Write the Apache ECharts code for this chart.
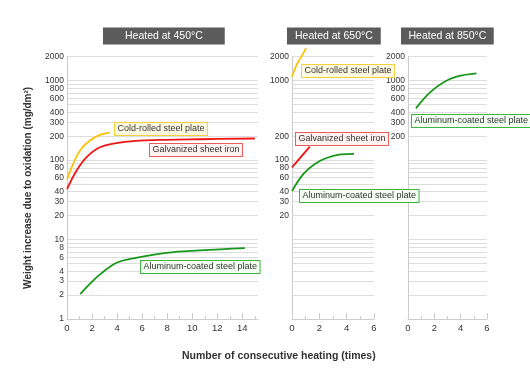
<!DOCTYPE html>
<html>
<head>
<meta charset="utf-8">
<script src="https://cdn.jsdelivr.net/npm/echarts@6/dist/echarts.min.js"></script>
<style>
html,body{margin:0;padding:0;background:#fff;}
#c{width:530px;height:392px;}
</style>
</head>
<body>
<div id="c"></div>
<script>
// ---- data ----
const PANEL_TITLES = ['Heated at 450°C', 'Heated at 650°C', 'Heated at 850°C'];
const GRID_VALUES = [1,2,3,4,5,6,7,8,9,10,20,30,40,50,60,70,80,90,100,200,300,400,500,600,700,800,900,1000,2000];
const P1_YLABELS = [1,2,3,4,6,8,10,20,30,40,60,80,100,200,300,400,600,800,1000,2000];
const P2_YLABELS = [20,30,40,60,80,100,200,1000,2000];
const P3_YLABELS = [200,300,400,600,800,1000,2000];
const P1_XMAJOR = [0,2,4,6,8,10,12,14];
const P1_XMINOR = [1,3,5,7,9,11,13,15];
const P23_XMAJOR = [0,2,4,6];
const P23_XMINOR = [1,3,5];

// 450°C
const p1Cold = [[0,57],[0.37,81],[1.04,132],[1.83,176],[2.63,208],[3.42,222]];
const p1Galv = [[0,43],[0.77,74],[1.57,109],[2.63,145],[3.96,163],[5.29,173],[7.94,180],[10.6,183],[15,187]];
const p1Alum = [[1.06,2.06],[1.86,2.8],[2.66,3.67],[3.96,5.1],[5.29,5.8],[7.94,6.8],[10.6,7.3],[14.2,7.8]];
// 650°C
const p2Cold = [[0,1120],[0.37,1620],[0.72,2050],[1.03,2570]];
const p2Galv = [[0,81],[1.3,148]];
const p2Alum = [[0,40.7],[0.84,67],[1.7,90],[2.57,107],[3.56,118],[4.54,120]];
// 850°C
const p3Alum = [[0.6,448],[1.67,711],[2.68,949],[3.69,1120],[5.2,1230]];

const NAMES = {cold:'Cold-rolled steel plate', galv:'Galvanized sheet iron', alum:'Aluminum-coated steel plate'};
const Y_TITLE = 'Weight increase due to oxidation (mg/dm²)';
const X_TITLE = 'Number of consecutive heating (times)';

// ---- styles ----
const FONT = '"Liberation Sans", Arial, sans-serif';
const C = {
  cold:{line:'#fcc20a', border:'#f5cf3c', fill:'#fffbe2'},
  galv:{line:'#f01414', border:'#ef5a5a', fill:'#fff2f2'},
  alum:{line:'#18981a', border:'#3fb43f', fill:'#f2fff2'}
};
const grids = [
  {left:67, top:56.7, width:191, height:262.3},
  {left:292, top:56.7, width:82, height:262.3},
  {left:408, top:56.7, width:79, height:262.3}
];
const xMax = [15.25, 6, 6];
const yLabels = [P1_YLABELS, P2_YLABELS, P3_YLABELS];
const xMajor = [P1_XMAJOR, P23_XMAJOR, P23_XMAJOR];
const xMinor = [P1_XMINOR, P23_XMINOR, P23_XMINOR];

const xAxes = [], yAxes = [];
for (let i = 0; i < 3; i++) {
  xAxes.push({
    type:'value', gridIndex:i, min:0, max:xMax[i], position:'bottom',
    axisLine:{show:true, lineStyle:{color:'#cccccc', width:1}},
    axisTick:{show:true, inside:true, length:6, customValues:xMajor[i], lineStyle:{color:'#cccccc'}},
    axisLabel:{customValues:xMajor[i], fontSize:9.5, color:'#333', fontFamily:FONT, margin:4},
    splitLine:{show:false}
  });
  xAxes.push({
    type:'value', gridIndex:i, min:0, max:xMax[i], position:'bottom',
    axisLine:{show:false},
    axisTick:{show:true, inside:true, length:3, customValues:xMinor[i], lineStyle:{color:'#cccccc'}},
    axisLabel:{show:false},
    splitLine:{show:false}
  });
  yAxes.push({
    type:'log', logBase:10, gridIndex:i, min:1, max:2000,
    axisLine:{show:true, lineStyle:{color:'#cccccc', width:1}},
    axisTick:{show:false, customValues:GRID_VALUES},
    axisLabel:{customValues:yLabels[i], fontSize:8.5, color:'#333', fontFamily:FONT, margin:3,
      formatter:v => String(Math.round(v))},
    splitLine:{show:true, lineStyle:{color:'#dddddd', width:1}},
    name: i === 0 ? Y_TITLE : '',
    nameLocation:'middle', nameGap:34,
    nameTextStyle:{fontSize:10, fontWeight:'bold', color:'#333', fontFamily:FONT}
  });
}

function line(data, key, gi) {
  return {
    type:'line', name:NAMES[key], xAxisIndex:gi*2, yAxisIndex:gi, data:data,
    smooth:0.4, showSymbol:false, symbol:'none', clip:false,
    lineStyle:{color:C[key].line, width:1.8}, silent:true
  };
}

function tag(key, x, y) {
  return {
    type:'text', left:x, top:y, silent:true, z:100,
    style:{
      text:NAMES[key], fontSize:9, fontFamily:FONT, fill:'#333',
      backgroundColor:C[key].fill, borderColor:C[key].border, borderWidth:1,
      padding:[1,2.5,1,2.5], lineHeight:10
    }
  };
}

const titles = [
  {text:PANEL_TITLES[0], left:103, top:28, padding:[3,22,3,22]},
  {text:PANEL_TITLES[1], left:287, top:28, padding:[3,8,3,8]},
  {text:PANEL_TITLES[2], left:401, top:28, padding:[3,7.5,3,7.5]}
].map(t => Object.assign(t, {
  backgroundColor:'#5b5b5b',
  textStyle:{color:'#fff', fontSize:10.5, fontWeight:'normal', fontFamily:FONT, lineHeight:10}
}));
titles.push({
  text:X_TITLE, left:182, top:351, padding:0,
  textStyle:{color:'#333', fontSize:10.5, fontWeight:'bold', fontFamily:FONT}
});

const chart = echarts.init(document.getElementById('c'), null, {renderer:'canvas'});
chart.setOption({
  animation:false,
  backgroundColor:'#ffffff',
  title:titles,
  grid:grids,
  xAxis:xAxes,
  yAxis:yAxes,
  series:[
    line(p1Cold,'cold',0), line(p1Galv,'galv',0), line(p1Alum,'alum',0),
    line(p2Cold,'cold',1), line(p2Galv,'galv',1), line(p2Alum,'alum',1),
    line(p3Alum,'alum',2)
  ],
  graphic:[
    tag('cold',114,122), tag('galv',149,143), tag('alum',140,260),
    tag('cold',301,64), tag('galv',295,132), tag('alum',299,189),
    tag('alum',411,114)
  ]
});
</script>
</body>
</html>
